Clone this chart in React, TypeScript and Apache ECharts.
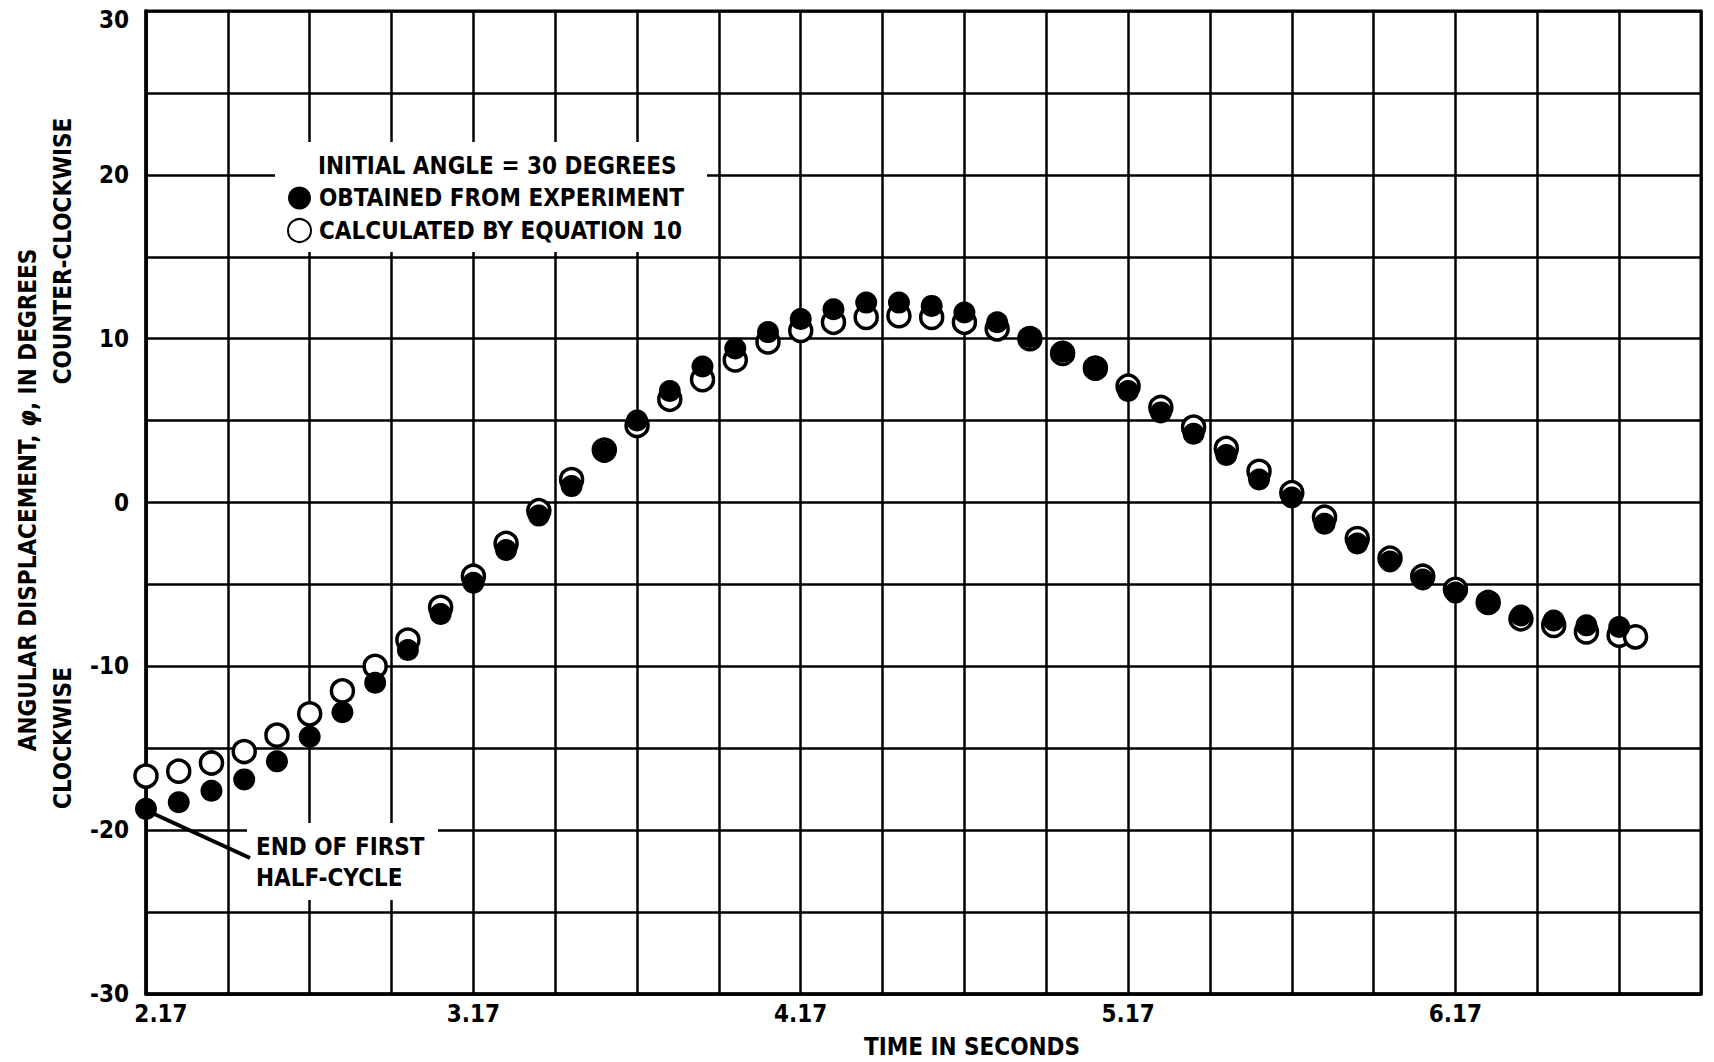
import React, { useEffect, useRef } from "react";
import * as echarts from "echarts";

// Time (s) of each experimental reading
const expTime = [
  2.17, 2.27, 2.37, 2.47, 2.57, 2.67, 2.77, 2.87, 2.97, 3.07,
  3.17, 3.27, 3.37, 3.47, 3.57, 3.67, 3.77, 3.87, 3.97, 4.07,
  4.17, 4.27, 4.37, 4.47, 4.57, 4.67, 4.77, 4.87, 4.97, 5.07,
  5.17, 5.27, 5.37, 5.47, 5.57, 5.67, 5.77, 5.87, 5.97, 6.07,
  6.17, 6.27, 6.37, 6.47, 6.57, 6.67,
];
// Angular displacement obtained from experiment (deg)
const expAngle = [
  -18.7, -18.3, -17.6, -16.9, -15.8, -14.3, -12.8, -11.0, -9.0, -6.8,
  -4.9, -2.9, -0.8, 1.0, 3.1, 5.0, 6.8, 8.3, 9.4, 10.4,
  11.2, 11.8, 12.2, 12.2, 12.0, 11.6, 11.0, 10.1, 9.2, 8.1,
  6.8, 5.5, 4.2, 2.9, 1.4, 0.3, -1.3, -2.5, -3.6, -4.7,
  -5.5, -6.2, -6.9, -7.2, -7.5, -7.6,
];
// Time (s) of each calculated value
const calcTime = [
  2.17, 2.27, 2.37, 2.47, 2.57, 2.67, 2.77, 2.87, 2.97, 3.07,
  3.17, 3.27, 3.37, 3.47, 3.57, 3.67, 3.77, 3.87, 3.97, 4.07,
  4.17, 4.27, 4.37, 4.47, 4.57, 4.67, 4.77, 4.87, 4.97, 5.07,
  5.17, 5.27, 5.37, 5.47, 5.57, 5.67, 5.77, 5.87, 5.97, 6.07,
  6.17, 6.27, 6.37, 6.47, 6.57, 6.67, 6.72,
];
// Angular displacement calculated by equation 10 (deg)
const calcAngle = [
  -16.7, -16.4, -15.9, -15.2, -14.2, -12.9, -11.5, -10.0, -8.4, -6.4,
  -4.5, -2.5, -0.5, 1.4, 3.2, 4.7, 6.3, 7.5, 8.7, 9.8,
  10.5, 11.0, 11.3, 11.4, 11.3, 11.0, 10.6, 10.0, 9.1, 8.2,
  7.1, 5.8, 4.6, 3.3, 1.9, 0.6, -0.9, -2.2, -3.4, -4.5,
  -5.3, -6.1, -7.1, -7.5, -7.9, -8.1, -8.2,
];
const xLabelTimes = [2.17, 3.17, 4.17, 5.17, 6.17];
const yLabelValues = [30, 20, 10, 0, -10, -20, -30];

const X_MIN = 2.17;
const X_MAX = 6.92;
const X_STEP = 0.25;

const FONT = '"Liberation Sans Narrow", "DejaVu Sans Condensed", "Arial Narrow", sans-serif';
const FS = 24;

export default function App() {
  const ref = useRef<HTMLDivElement>(null);

  useEffect(() => {
    if (!ref.current) return;
    const chart = echarts.init(ref.current, undefined, { renderer: "svg" });

    const txt = (size: number) => ({
      fontFamily: FONT,
      fontWeight: "bold" as const,
      fontSize: size,
      fill: "#000",
    });
    const richFont = { fontFamily: FONT, fontWeight: "bold", fontSize: FS, color: "#000" };

    const option: any = {
      animation: false,
      backgroundColor: "#fff",
      grid: {
        left: 146,
        right: 13,
        top: 11,
        bottom: 68,
        show: true,
        borderColor: "#000",
        borderWidth: 3,
      },
      xAxis: {
        type: "value",
        min: X_MIN,
        max: X_MAX,
        interval: X_STEP,
        axisLine: { show: true, onZero: false, lineStyle: { color: "#000", width: 3.5 } },
        axisTick: { show: false },
        splitLine: { show: true, lineStyle: { color: "#000", width: 2.5 } },
        axisLabel: {
          color: "#000",
          fontFamily: FONT,
          fontWeight: "bold",
          fontSize: FS,
          margin: 8,
          showMinLabel: true,
          showMaxLabel: true,
          formatter: (v: number) => {
            if (!xLabelTimes.some((t) => Math.abs(t - v) < 1e-6)) return "";
            const s = v.toFixed(2);
            return Math.abs(v - X_MIN) < 1e-6 ? `{first|${s}}` : s;
          },
          rich: { first: { ...richFont, padding: [0, 0, 0, 30] } },
        },
      },
      yAxis: {
        type: "value",
        min: -30,
        max: 30,
        interval: 5,
        axisLine: { show: true, onZero: false, lineStyle: { color: "#000", width: 3.5 } },
        axisTick: { show: false },
        splitLine: { show: true, lineStyle: { color: "#000", width: 2.5 } },
        axisLabel: {
          color: "#000",
          fontFamily: FONT,
          fontWeight: "bold",
          fontSize: FS,
          margin: 17,
          showMinLabel: true,
          showMaxLabel: true,
          formatter: (v: number) => {
            if (!yLabelValues.includes(v)) return "";
            return v === 30 ? `{top|${v}}` : String(v);
          },
          rich: { top: { ...richFont, padding: [18, 0, 0, 0] } },
        },
      },
      legend: {
        show: true,
        orient: "vertical",
        left: 287,
        top: 186,
        itemWidth: 23,
        itemHeight: 23,
        itemGap: 8,
        selectedMode: false,
        padding: 0,
        data: ["OBTAINED FROM EXPERIMENT", "CALCULATED BY EQUATION 10"],
        textStyle: {
          fontFamily: FONT,
          fontWeight: "bold",
          fontSize: FS,
          color: "#000",
          padding: [0, 0, 0, 3],
        },
      },
      series: [
        {
          name: "CALCULATED BY EQUATION 10",
          type: "scatter",
          data: calcTime.map((t, i) => [t, calcAngle[i]]),
          symbol: "circle",
          symbolSize: 22,
          itemStyle: { color: "#fff", borderColor: "#000", borderWidth: 3.5, opacity: 1 },
          z: 3,
        },
        {
          name: "OBTAINED FROM EXPERIMENT",
          type: "scatter",
          data: expTime.map((t, i) => [t, expAngle[i]]),
          symbol: "circle",
          symbolSize: 22,
          itemStyle: { color: "#000", opacity: 1 },
          z: 4,
        },
      ],
      graphic: [
        // white box behind the legend
        { type: "rect", z: 1, shape: { x: 275, y: 142, width: 432, height: 110 }, style: { fill: "#fff" } },
        {
          type: "text", z: 5, x: 318, y: 166,
          style: { text: "INITIAL ANGLE = 30 DEGREES", ...txt(FS), textVerticalAlign: "middle" },
        },
        // white box behind the annotation
        { type: "rect", z: 1, shape: { x: 247, y: 823, width: 191, height: 77 }, style: { fill: "#fff" } },
        {
          type: "text", z: 5, x: 256, y: 847,
          style: { text: "END OF FIRST", ...txt(FS), textVerticalAlign: "middle" },
        },
        {
          type: "text", z: 5, x: 256, y: 878,
          style: { text: "HALF-CYCLE", ...txt(FS), textVerticalAlign: "middle" },
        },
        {
          type: "line", z: 5,
          shape: { x1: 152, y1: 813, x2: 250, y2: 858 },
          style: { stroke: "#000", lineWidth: 4 },
        },
        // axis titles
        {
          type: "text", z: 5, x: 28, y: 500, rotation: Math.PI / 2,
          style: {
            text: "ANGULAR DISPLACEMENT, {i|φ}, IN DEGREES",
            ...txt(FS),
            textAlign: "center",
            textVerticalAlign: "middle",
            rich: { i: { fontStyle: "italic", fontFamily: FONT, fontWeight: "bold", fontSize: FS } },
          },
        },
        {
          type: "text", z: 5, x: 63, y: 251, rotation: Math.PI / 2,
          style: { text: "COUNTER-CLOCKWISE", ...txt(FS), textAlign: "center", textVerticalAlign: "middle" },
        },
        {
          type: "text", z: 5, x: 63, y: 738, rotation: Math.PI / 2,
          style: { text: "CLOCKWISE", ...txt(FS), textAlign: "center", textVerticalAlign: "middle" },
        },
        {
          type: "text", z: 5, x: 972, y: 1047,
          style: { text: "TIME IN SECONDS", ...txt(FS), textAlign: "center", textVerticalAlign: "middle" },
        },
      ],
    };

    chart.setOption(option);
    return () => chart.dispose();
  }, []);

  return (
    <div
      ref={ref}
      style={{ position: "fixed", left: 0, top: 0, width: 1714, height: 1062, background: "#fff" }}
    />
  );
}
